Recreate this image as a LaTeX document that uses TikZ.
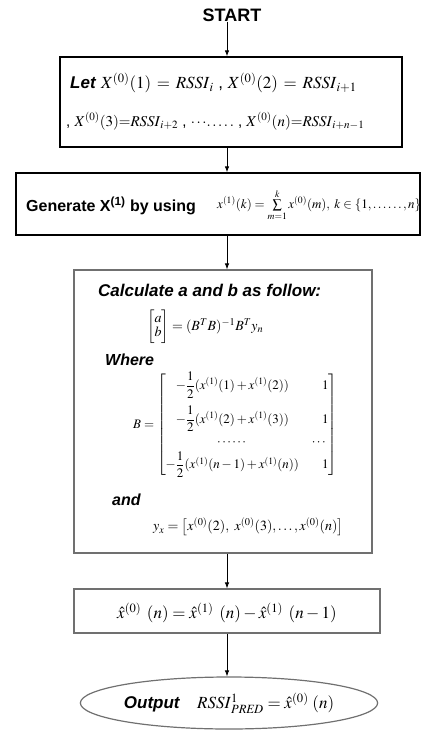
\documentclass[tikz,border=0pt]{standalone}
\usepackage{amsmath,amssymb}
\usepackage{mathptmx}
\usepackage[no-math]{fontspec}
\setmainfont{Liberation Sans}
\usetikzlibrary{arrows.meta,positioning,calc,shapes.geometric}
\definecolor{BoxGray}{HTML}{707070}
\newcommand{\fsz}[1]{\fontsize{#1}{#1}\selectfont}

\begin{document}
\begin{tikzpicture}[x=1pt,y=-1pt,>={Latex[length=6pt,width=4.5pt]},
  flowbox/.style={draw,line width=1.3pt,inner sep=0pt},
  softbox/.style={draw=BoxGray,line width=1.2pt,inner sep=0pt},
  lbl/.style={inner sep=0pt,anchor=west},
  flow/.style={->,line width=0.8pt}]
  \useasboundingbox (0,0) rectangle (422,731);
  % column of the arrows
  \coordinate (axis) at (227,0);

  \node[inner sep=0pt,font=\fsz{18}\bfseries] (start) at (232,15) {START};

  % initial series
  \node[flowbox,minimum width=342pt,minimum height=90pt] (init) at (231,102) {};
  \node[lbl,font=\fsz{17}] (initA) at (70,83)
    {\textbf{\textit{Let}} $X^{(0)}(1)\,=\,\mathit{RSSI}_{i}$ , $X^{(0)}(2)\,=\,\mathit{RSSI}_{i+1}$};
  \node[lbl,font=\fsz{15}] (initB) at (66,121)
    {, $X^{(0)}(3){=}\mathit{RSSI}_{i+2}$ , $\cdots\!.\,.\,.\,.\,.$ , $X^{(0)}(n){=}\mathit{RSSI}_{i+n-1}$};

  % accumulated series
  \node[flowbox,minimum width=404pt,minimum height=62pt] (ago) at (218,204) {};
  \node[lbl,font=\fsz{16}\bfseries] (agoT) at (26,206) {Generate X\textsuperscript{(1)} by using};
  \node[lbl,font=\fsz{13}] (agoF) at (217,205)
    {$x^{(1)}(k)=\sum\limits_{m=1}^{k}x^{(0)}(m),\;k\in\{1,\ldots\ldots,n\}$};

  % least squares
  \node[softbox,minimum width=298pt,minimum height=283pt] (calc) at (223,411.5) {};
  \node[lbl,font=\fsz{17}\bfseries\itshape] (calcT) at (98,290) {Calculate a and b as follow:};
  \node[lbl,font=\fsz{14}] (calcAB) at (147,327)
    {$\begin{bmatrix} a\\ b \end{bmatrix}=(B^{T}B)^{-1}B^{T}y_{n}$};
  \node[lbl,font=\fsz{16}\bfseries\itshape] (calcW) at (105,360) {Where};
  \node[lbl,font=\fsz{13}] (calcB) at (133,425)
    {\renewcommand{\arraystretch}{1.5}$B=\begin{bmatrix}
      -\dfrac{1}{2}(x^{(1)}(1)+x^{(1)}(2)) & \quad 1\\[10pt]
      -\dfrac{1}{2}(x^{(1)}(2)+x^{(1)}(3)) & \quad 1\\
      \cdots\cdots & \cdots\\
      -\dfrac{1}{2}(x^{(1)}(n-1)+x^{(1)}(n)) & \quad 1
    \end{bmatrix}$};
  \node[lbl,font=\fsz{16}\bfseries\itshape] (calcAnd) at (112,500) {and};
  \node[lbl,font=\fsz{14}] (calcY) at (153,527)
    {$y_{x}=\bigl[x^{(0)}(2),\ x^{(0)}(3),\ldots,x^{(0)}(n)\bigr]$};

  % restored value
  \node[softbox,minimum width=306pt,minimum height=44pt] (inv) at (227,611) {};
  \node[inner sep=0pt,font=\fsz{17}] (invF) at (227,613)
    {$\hat{x}^{(0)}\;\,(n)=\hat{x}^{(1)}\;\,(n)-\hat{x}^{(1)}\;\,(n-1)$};

  % output
  \node[ellipse,draw=BoxGray,line width=1.2pt,minimum width=275pt,minimum height=52pt,inner sep=0pt,
        font=\fsz{17}] (out) at (229,703)
    {\textbf{\textit{Output}}\quad $\mathit{RSSI}^{1}_{\mathit{PRED}}=\hat{x}^{(0)}\;(n)$};

  \draw[flow] (axis |- start.south) -- (axis |- init.north);
  \draw[flow] (axis |- init.south) -- (axis |- ago.north);
  \draw[flow] (axis |- ago.south) -- (axis |- calc.north);
  \draw[flow] (axis |- calc.south) -- (axis |- inv.north);
  \draw[flow] (axis |- inv.south) -- (axis |- out.north);
\end{tikzpicture}
\end{document}
